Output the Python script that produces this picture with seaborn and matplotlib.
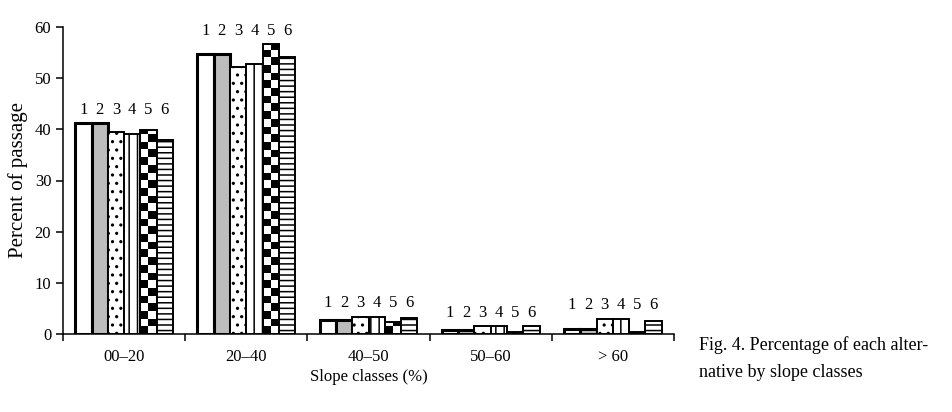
import numpy as np
import pandas as pd
import matplotlib
matplotlib.use("Agg")
import matplotlib.pyplot as plt
import seaborn as sns

# ---- data ----
categories = ["00–20", "20–40", "40–50", "50–60", "> 60"]
alternatives = ["1", "2", "3", "4", "5", "6"]
alt1 = [41.2, 54.8, 2.8, 0.8, 0.9]
alt2 = [41.2, 54.8, 2.8, 0.7, 1.0]
alt3 = [39.5, 52.1, 3.4, 1.6, 3.0]
alt4 = [39.1, 52.7, 3.3, 1.6, 3.0]
alt5 = [39.8, 56.6, 2.3, 0.4, 0.45]
alt6 = [38.0, 54.2, 3.2, 1.6, 2.6]
yticks = [0, 10, 20, 30, 40, 50, 60]
series = [alt1, alt2, alt3, alt4, alt5, alt6]

plt.rcParams['font.family'] = ['Liberation Serif', 'DejaVu Serif']
plt.rcParams['hatch.linewidth'] = 1.1
plt.rcParams['hatch.color'] = 'black'

rows = []
for a, vals in zip(alternatives, series):
    for c, v in zip(categories, vals):
        rows.append({"slope": c, "alt": a, "percent": v})
df = pd.DataFrame(rows)

W, H = 953, 412
fig = plt.figure(figsize=(W / 100, H / 100), dpi=100)
ax = fig.add_axes([63 / W, 1 - 334 / H, (674 - 63) / W, (334 - 27) / H])

sns.barplot(data=df, x="slope", y="percent", hue="alt", order=categories,
            hue_order=alternatives, palette=["white"] * 6, saturation=1,
            width=0.8, legend=False, ax=ax, err_kws={'linewidth': 0})

styles = [
    dict(fc="white", lw=2.2, hatch=None),
    dict(fc="#bdbdbd", lw=2.2, hatch=None),
    dict(fc="white", lw=1.4, hatch=".."),
    dict(fc="white", lw=1.4, hatch="||"),
    dict(fc="none", lw=1.4, hatch=None),
    dict(fc="white", lw=1.4, hatch="---"),
]

sq = 1.5  # checker square height in data units
for k, cont in enumerate(ax.containers):
    st = styles[k]
    for bar in cont:
        bar.set_facecolor(st["fc"])
        bar.set_edgecolor("black")
        bar.set_linewidth(st["lw"])
        bar.set_zorder(3)
        if st["hatch"]:
            bar.set_hatch(st["hatch"])
        if k == 4:
            x0, w, h = bar.get_x(), bar.get_width(), bar.get_height()
            nrows = int(np.ceil(h / sq)) + 1
            arr = (np.add.outer(np.arange(nrows), np.arange(2)) % 2).astype(float)
            im = ax.imshow(arr, extent=(x0, x0 + w, 0, nrows * sq), origin="lower",
                           cmap="gray", interpolation="nearest", aspect="auto",
                           zorder=2, vmin=0, vmax=1)
            im.set_clip_path(bar)

# number labels over bars
group_max = [max(s[i] for s in series) for i in range(len(categories))]
for k, cont in enumerate(ax.containers):
    for i, bar in enumerate(cont):
        ax.text(bar.get_x() + bar.get_width() / 2, group_max[i] + 2.6,
                alternatives[k], ha="center", va="center", fontsize=12, zorder=5)

ax.set_xlim(-0.5, 4.5)
ax.set_ylim(0, 60)
ax.set_yticks(yticks)
ax.set_xticks(np.arange(-0.5, 5.0, 1.0))
ax.set_xticklabels([])
ax.set_xticks(np.arange(len(categories)), minor=True)
ax.set_xticklabels(categories, minor=True)
ax.tick_params(axis="x", which="major", direction="out", length=5, width=1.1)
ax.tick_params(axis="x", which="minor", length=0, pad=11, labelsize=12)
ax.tick_params(axis="y", direction="out", length=5, width=1.1, labelsize=12, pad=3.5)

sns.despine(ax=ax)
for s in ("left", "bottom"):
    ax.spines[s].set_linewidth(1.1)
ax.set_xlabel("Slope classes (%)", fontsize=12, labelpad=3)
ax.set_ylabel("Percent of passage", fontsize=15, labelpad=5)

fig.text(699 / W, 1 - 345 / H, "Fig. 4. Percentage of each alter-", fontsize=13,
         va="center", ha="left")
fig.text(699 / W, 1 - 372.5 / H, "native by slope classes", fontsize=13,
         va="center", ha="left")

fig.savefig("out.png", dpi=100)
